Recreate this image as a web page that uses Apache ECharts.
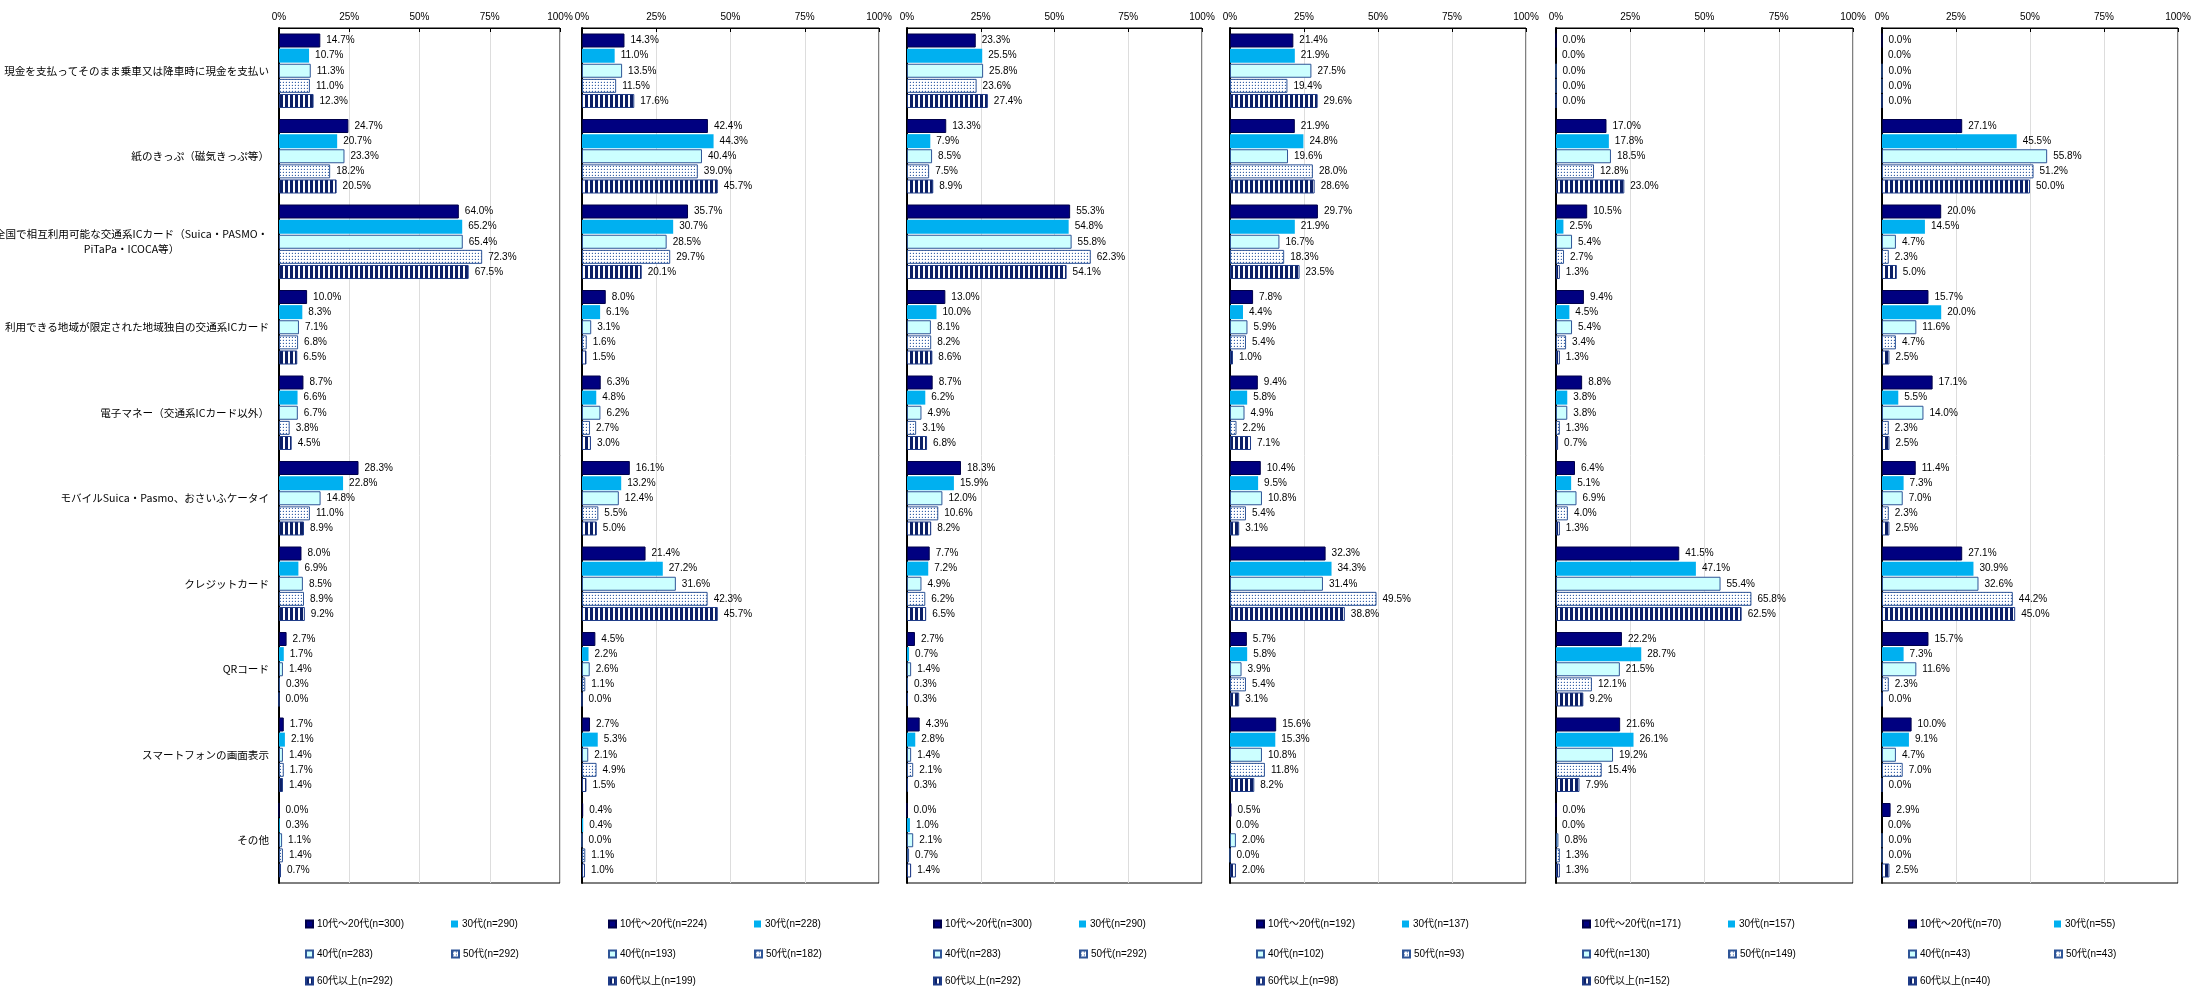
<!DOCTYPE html>
<html><head><meta charset="utf-8">
<script src="https://cdn.jsdelivr.net/npm/echarts@6/dist/echarts.min.js"></script>
<style>html,body{margin:0;padding:0;background:#fff}#c{width:2194px;height:986px}</style>
</head><body><div id="c"></div>
<script>
// ---------- DATA ----------
const categories = [
  '現金を支払ってそのまま乗車又は降車時に現金を支払い',
  '紙のきっぷ（磁気きっぷ等）',
  '全国で相互利用可能な交通系ICカード（Suica・PASMO・\nPiTaPa・ICOCA等）',
  '利用できる地域が限定された地域独自の交通系ICカード',
  '電子マネー（交通系ICカード以外）',
  'モバイルSuica・Pasmo、おさいふケータイ',
  'クレジットカード',
  'QRコード',
  'スマートフォンの画面表示',
  'その他'
];
const ageGroups = ['10代～20代', '30代', '40代', '50代', '60代以上'];
const xTickValues = [0, 25, 50, 75, 100];

const panel1_n = [300, 290, 283, 292, 292];
const panel2_n = [224, 228, 193, 182, 199];
const panel3_n = [300, 290, 283, 292, 292];
const panel4_n = [192, 137, 102, 93, 98];
const panel5_n = [171, 157, 130, 149, 152];
const panel6_n = [70, 55, 43, 43, 40];

const panel1_age1020 = [14.7, 24.7, 64.0, 10.0, 8.7, 28.3, 8.0, 2.7, 1.7, 0.0];
const panel1_age30   = [10.7, 20.7, 65.2, 8.3, 6.6, 22.8, 6.9, 1.7, 2.1, 0.3];
const panel1_age40   = [11.3, 23.3, 65.4, 7.1, 6.7, 14.8, 8.5, 1.4, 1.4, 1.1];
const panel1_age50   = [11.0, 18.2, 72.3, 6.8, 3.8, 11.0, 8.9, 0.3, 1.7, 1.4];
const panel1_age60   = [12.3, 20.5, 67.5, 6.5, 4.5, 8.9, 9.2, 0.0, 1.4, 0.7];

const panel2_age1020 = [14.3, 42.4, 35.7, 8.0, 6.3, 16.1, 21.4, 4.5, 2.7, 0.4];
const panel2_age30   = [11.0, 44.3, 30.7, 6.1, 4.8, 13.2, 27.2, 2.2, 5.3, 0.4];
const panel2_age40   = [13.5, 40.4, 28.5, 3.1, 6.2, 12.4, 31.6, 2.6, 2.1, 0.0];
const panel2_age50   = [11.5, 39.0, 29.7, 1.6, 2.7, 5.5, 42.3, 1.1, 4.9, 1.1];
const panel2_age60   = [17.6, 45.7, 20.1, 1.5, 3.0, 5.0, 45.7, 0.0, 1.5, 1.0];

const panel3_age1020 = [23.3, 13.3, 55.3, 13.0, 8.7, 18.3, 7.7, 2.7, 4.3, 0.0];
const panel3_age30   = [25.5, 7.9, 54.8, 10.0, 6.2, 15.9, 7.2, 0.7, 2.8, 1.0];
const panel3_age40   = [25.8, 8.5, 55.8, 8.1, 4.9, 12.0, 4.9, 1.4, 1.4, 2.1];
const panel3_age50   = [23.6, 7.5, 62.3, 8.2, 3.1, 10.6, 6.2, 0.3, 2.1, 0.7];
const panel3_age60   = [27.4, 8.9, 54.1, 8.6, 6.8, 8.2, 6.5, 0.3, 0.3, 1.4];

const panel4_age1020 = [21.4, 21.9, 29.7, 7.8, 9.4, 10.4, 32.3, 5.7, 15.6, 0.5];
const panel4_age30   = [21.9, 24.8, 21.9, 4.4, 5.8, 9.5, 34.3, 5.8, 15.3, 0.0];
const panel4_age40   = [27.5, 19.6, 16.7, 5.9, 4.9, 10.8, 31.4, 3.9, 10.8, 2.0];
const panel4_age50   = [19.4, 28.0, 18.3, 5.4, 2.2, 5.4, 49.5, 5.4, 11.8, 0.0];
const panel4_age60   = [29.6, 28.6, 23.5, 1.0, 7.1, 3.1, 38.8, 3.1, 8.2, 2.0];

const panel5_age1020 = [0.0, 17.0, 10.5, 9.4, 8.8, 6.4, 41.5, 22.2, 21.6, 0.0];
const panel5_age30   = [0.0, 17.8, 2.5, 4.5, 3.8, 5.1, 47.1, 28.7, 26.1, 0.0];
const panel5_age40   = [0.0, 18.5, 5.4, 5.4, 3.8, 6.9, 55.4, 21.5, 19.2, 0.8];
const panel5_age50   = [0.0, 12.8, 2.7, 3.4, 1.3, 4.0, 65.8, 12.1, 15.4, 1.3];
const panel5_age60   = [0.0, 23.0, 1.3, 1.3, 0.7, 1.3, 62.5, 9.2, 7.9, 1.3];

const panel6_age1020 = [0.0, 27.1, 20.0, 15.7, 17.1, 11.4, 27.1, 15.7, 10.0, 2.9];
const panel6_age30   = [0.0, 45.5, 14.5, 20.0, 5.5, 7.3, 30.9, 7.3, 9.1, 0.0];
const panel6_age40   = [0.0, 55.8, 4.7, 11.6, 14.0, 7.0, 32.6, 11.6, 4.7, 0.0];
const panel6_age50   = [0.0, 51.2, 2.3, 4.7, 2.3, 2.3, 44.2, 2.3, 7.0, 0.0];
const panel6_age60   = [0.0, 50.0, 5.0, 2.5, 2.5, 2.5, 45.0, 0.0, 0.0, 2.5];

const panels = [
  {n: panel1_n, series: [panel1_age1020, panel1_age30, panel1_age40, panel1_age50, panel1_age60]},
  {n: panel2_n, series: [panel2_age1020, panel2_age30, panel2_age40, panel2_age50, panel2_age60]},
  {n: panel3_n, series: [panel3_age1020, panel3_age30, panel3_age40, panel3_age50, panel3_age60]},
  {n: panel4_n, series: [panel4_age1020, panel4_age30, panel4_age40, panel4_age50, panel4_age60]},
  {n: panel5_n, series: [panel5_age1020, panel5_age30, panel5_age40, panel5_age50, panel5_age60]},
  {n: panel6_n, series: [panel6_age1020, panel6_age30, panel6_age40, panel6_age50, panel6_age60]}
];

// ---------- LAYOUT ----------
const gridBoxes = [
  {left: 279, width: 281},
  {left: 582, width: 297},
  {left: 907, width: 295},
  {left: 1230, width: 296},
  {left: 1556, width: 297},
  {left: 1882, width: 296}
];
const gridTop = 28, gridHeight = 855;
const FONT = '"Liberation Sans", "Noto Sans CJK JP", sans-serif';
const JFONT = '"Noto Sans CJK JP", sans-serif';
const CAT_FS = 10.6;

// patterns
function makeDots() {
  const c = document.createElement('canvas'); c.width = 3; c.height = 3;
  const g = c.getContext('2d');
  g.fillStyle = '#ffffff'; g.fillRect(0, 0, 3, 3);
  g.fillStyle = '#dfe7f3'; g.fillRect(0, 1, 1, 1); g.fillRect(1, 0, 1, 1);
  g.fillStyle = '#3b64a8'; g.fillRect(1, 1, 1, 1);
  return c;
}
function makeStripes() {
  const c = document.createElement('canvas'); c.width = 5; c.height = 2;
  const g = c.getContext('2d');
  g.fillStyle = '#ffffff'; g.fillRect(0, 0, 5, 2);
  g.fillStyle = '#0b1f66'; g.fillRect(0, 0, 3, 2);
  return c;
}
const dots = makeDots(), stripes = makeStripes();
const itemStyles = [
  {color: '#000080', borderColor: '#00004a', borderWidth: 1},
  {color: '#00B0F0', borderWidth: 0},
  {color: '#CCFFFF', borderColor: '#2F5597', borderWidth: 1},
  {color: {image: dots, repeat: 'repeat'}, borderColor: '#2F5597', borderWidth: 1},
  {color: {image: stripes, repeat: 'repeat'}, borderColor: '#1F3C88', borderWidth: 1}
];

// measure the two-line label for centered lines
const mctx = document.createElement('canvas').getContext('2d');
mctx.font = CAT_FS + 'px ' + JFONT;
const longLine = categories[2].split('\n')[0];
const longW = Math.ceil(mctx.measureText(longLine).width) + 1;

const grids = [], xAxes = [], yAxes = [], series = [], legends = [];
panels.forEach((p, i) => {
  grids.push({left: gridBoxes[i].left, width: gridBoxes[i].width, top: gridTop, height: gridHeight,
    show: true, borderColor: '#000', borderWidth: 1, containLabel: false, outerBoundsMode: 'none'});
  xAxes.push({
    gridIndex: i, type: 'value', min: 0, max: 100, interval: 25, position: 'top',
    axisLine: {show: true, lineStyle: {color: '#000', width: 1}},
    axisTick: {show: true, inside: true, length: 4, lineStyle: {color: '#000'}},
    axisLabel: {formatter: '{value}%', fontSize: 10, color: '#000', margin: 6, fontFamily: FONT,
      customValues: xTickValues},
    splitLine: {show: true, lineStyle: {color: '#dddddd', width: 1}}
  });
  yAxes.push({
    gridIndex: i, type: 'category', data: categories, inverse: true,
    axisLine: {show: true, lineStyle: {color: '#000', width: 2}},
    axisTick: {show: false},
    splitLine: {show: false},
    axisLabel: {
      show: i === 0, fontSize: CAT_FS, color: '#000', margin: 10, fontFamily: JFONT, lineHeight: 15,
      formatter: function (v) {
        if (v.indexOf('\n') >= 0) return v.split('\n').map(s => '{c|' + s + '}').join('\n');
        return v;
      },
      rich: {c: {width: longW, align: 'center', fontSize: CAT_FS, lineHeight: 15, color: '#000', fontFamily: JFONT}}
    }
  });
  p.series.forEach((vals, k) => {
    const name = ageGroups[k] + '(n=' + p.n[k] + ')';
    series.push({
      type: 'bar', name: name, xAxisIndex: i, yAxisIndex: i, data: vals,
      barWidth: 14, barGap: '8%', itemStyle: itemStyles[k],
      animation: false,
      label: {show: true, position: 'right', distance: 6, fontSize: 10, color: '#000', fontFamily: FONT,
        formatter: (d) => d.value.toFixed(1) + '%'}
    });
    const col = k % 2, row = Math.floor(k / 2);
    const rowTops = [919, 949, 976];
    legends.push({
      data: [name], left: gridBoxes[i].left + 26 + col * 146, top: rowTops[row],
      itemWidth: 7, itemHeight: 7, icon: 'rect', padding: 0, itemGap: 0,
      selectedMode: false,
      textStyle: {fontSize: 10, color: '#000', fontFamily: FONT, padding: [0, 0, 0, -1]}
    });
  });
});

const chart = echarts.init(document.getElementById('c'), null, {renderer: 'canvas'});
chart.setOption({
  backgroundColor: '#fff',
  animation: false,
  grid: grids, xAxis: xAxes, yAxis: yAxes, series: series, legend: legends
});
</script></body></html>
